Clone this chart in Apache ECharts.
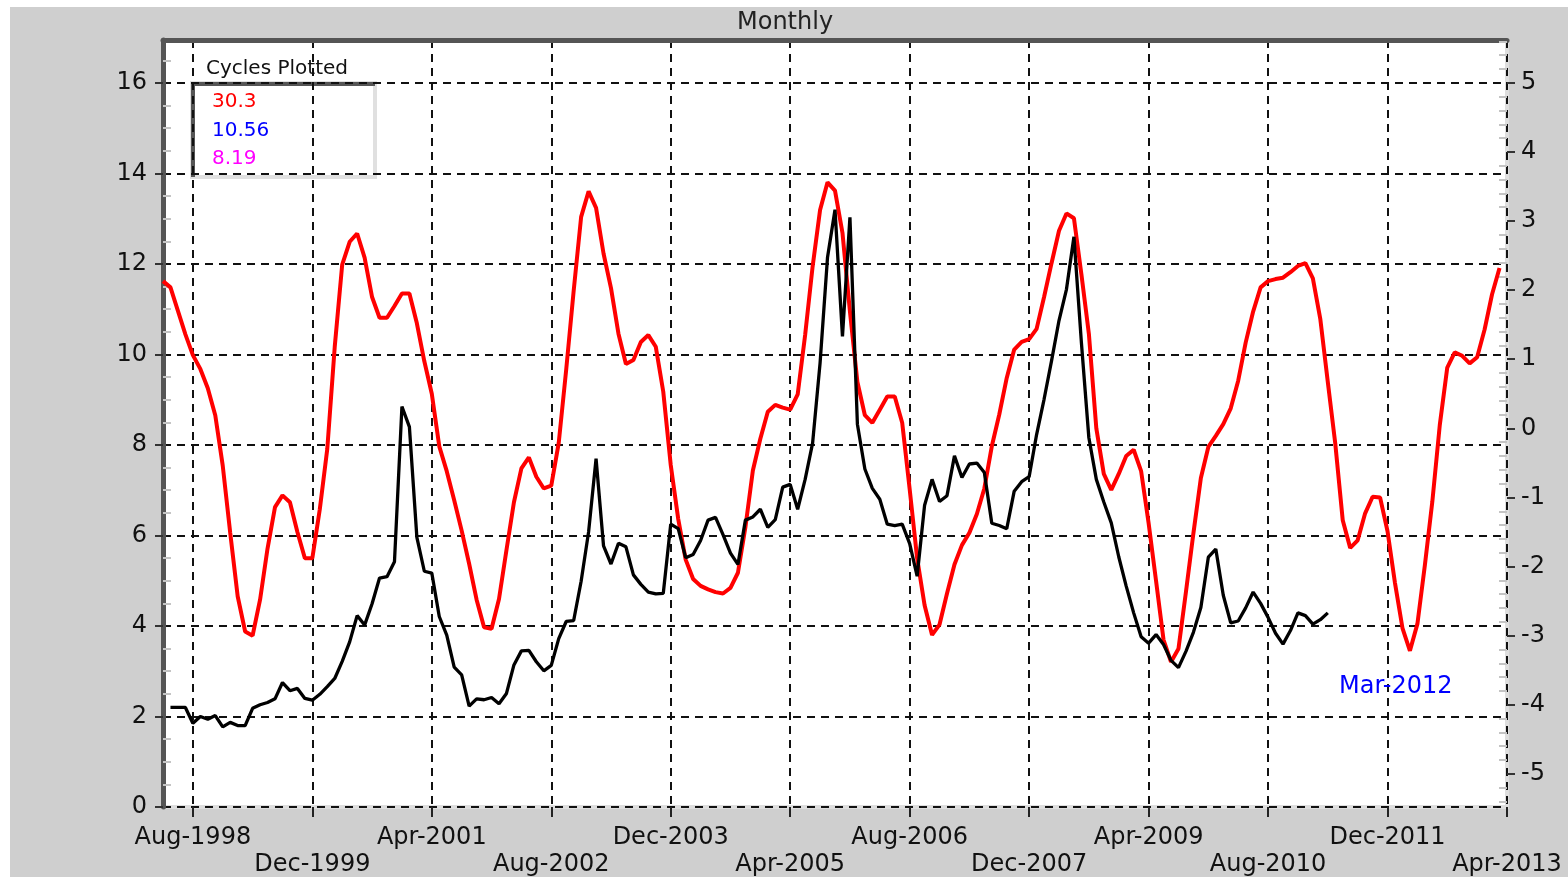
<!DOCTYPE html>
<html>
<head>
<meta charset="utf-8">
<title>Monthly</title>
<script src="https://cdn.jsdelivr.net/npm/echarts@6/dist/echarts.min.js"></script>
<style>
  html, body { margin: 0; padding: 0; background: #fff; }
  #chart {
    position: absolute; left: 10px; top: 7px;
    width: 1558px; height: 870px;
    background: #cfcfcf;
  }
</style>
</head>
<body>
<div id="chart"></div>
<script>
// month axis runs Apr-1998 .. Apr-2013
const startYear = 1998;
const startMonth = 3; // April, 0-based
const monthCount = 181;
const monthNames = ['Jan', 'Feb', 'Mar', 'Apr', 'May', 'Jun', 'Jul', 'Aug', 'Sep', 'Oct', 'Nov', 'Dec'];

// labelled ticks on the date axis
const tickLabels = ['Aug-1998', 'Dec-1999', 'Apr-2001', 'Aug-2002', 'Dec-2003', 'Apr-2005',
  'Aug-2006', 'Dec-2007', 'Apr-2009', 'Aug-2010', 'Dec-2011', 'Apr-2013'];

// cycle composite (red, right axis)
const cycleValues = [
  2.13, 2.04, 1.70, 1.36, 1.06, 0.86, 0.58, 0.19, -0.54, -1.51,
  -2.43, -2.94, -3.00, -2.48, -1.74, -1.14, -0.97, -1.07, -1.50, -1.88,
  -1.88, -1.17, -0.30, 1.18, 2.37, 2.70, 2.82, 2.47, 1.90, 1.60,
  1.60, 1.77, 1.95, 1.95, 1.52, 0.97, 0.50, -0.26, -0.62, -1.04,
  -1.48, -1.96, -2.48, -2.88, -2.90, -2.47, -1.76, -1.07, -0.58, -0.42,
  -0.70, -0.87, -0.83, -0.21, 0.85, 1.99, 3.06, 3.43, 3.19, 2.53,
  2.03, 1.37, 0.93, 0.99, 1.25, 1.35, 1.18, 0.53, -0.53, -1.31,
  -1.90, -2.18, -2.28, -2.33, -2.37, -2.39, -2.31, -2.09, -1.43, -0.61,
  -0.15, 0.24, 0.34, 0.30, 0.27, 0.49, 1.35, 2.34, 3.16, 3.56,
  3.44, 2.83, 1.69, 0.67, 0.19, 0.08, 0.27, 0.46, 0.46, 0.08,
  -0.88, -1.88, -2.56, -2.99, -2.84, -2.39, -1.97, -1.69, -1.51, -1.24,
  -0.87, -0.26, 0.20, 0.73, 1.14, 1.25, 1.29, 1.44, 1.90, 2.39,
  2.86, 3.11, 3.04, 2.23, 1.37, 0.00, -0.66, -0.89, -0.66, -0.40,
  -0.31, -0.62, -1.37, -2.21, -3.06, -3.38, -3.19, -2.37, -1.52, -0.72,
  -0.27, -0.11, 0.06, 0.29, 0.69, 1.24, 1.69, 2.04, 2.13, 2.16,
  2.18, 2.26, 2.35, 2.39, 2.17, 1.58, 0.67, -0.22, -1.33, -1.73,
  -1.62, -1.23, -0.99, -1.00, -1.49, -2.24, -2.89, -3.22, -2.83, -1.98,
  -1.06, 0.05, 0.88, 1.10, 1.05, 0.94, 1.03, 1.43, 1.94, 2.32, null
];

// monthly price (black, left axis)
const priceValues = [
  null, 2.20, 2.20, 2.20, 1.85, 2.00, 1.94, 2.02, 1.77, 1.87,
  1.80, 1.80, 2.18, 2.26, 2.31, 2.39, 2.75, 2.57, 2.62, 2.40,
  2.36, 2.49, 2.66, 2.84, 3.22, 3.65, 4.23, 4.02, 4.49, 5.06,
  5.09, 5.42, 8.85, 8.40, 5.96, 5.21, 5.17, 4.21, 3.80, 3.09,
  2.92, 2.23, 2.39, 2.37, 2.42, 2.28, 2.51, 3.14, 3.45, 3.46,
  3.21, 3.01, 3.13, 3.72, 4.10, 4.12, 4.99, 6.08, 7.70, 5.77,
  5.37, 5.83, 5.75, 5.13, 4.92, 4.75, 4.71, 4.72, 6.25, 6.15,
  5.51, 5.58, 5.89, 6.34, 6.40, 6.02, 5.61, 5.36, 6.34, 6.41,
  6.58, 6.18, 6.35, 7.07, 7.13, 6.58, 7.24, 8.04, 9.81, 12.15,
  13.20, 10.40, 13.03, 8.46, 7.47, 7.04, 6.80, 6.25, 6.22, 6.25,
  5.82, 5.10, 6.67, 7.24, 6.75, 6.88, 7.76, 7.28, 7.58, 7.60,
  7.39, 6.27, 6.22, 6.15, 6.98, 7.19, 7.30, 8.23, 9.01, 9.86,
  10.75, 11.44, 12.60, 10.26, 8.16, 7.24, 6.74, 6.28, 5.53, 4.88,
  4.29, 3.76, 3.62, 3.81, 3.59, 3.24, 3.08, 3.44, 3.86, 4.41,
  5.52, 5.70, 4.68, 4.07, 4.11, 4.40, 4.75, 4.50, 4.19, 3.84,
  3.60, 3.90, 4.29, 4.23, 4.04, 4.14, 4.29
];

// legend box entries
const legendTitle = 'Cycles Plotted';
const legendLabels = ['30.3', '10.56', '8.19'];
const legendColors = ['#ff0000', '#0000ff', '#ff00ff'];

const FONT = 'DejaVu Sans';

function buildMonths() {
  const out = [];
  for (let i = 0; i < monthCount; i++) {
    const t = startMonth + i;
    out.push(monthNames[t % 12] + '-' + (startYear + Math.floor(t / 12)));
  }
  return out;
}

function initChart() {
  const months = buildMonths();
  const tickIdx = tickLabels.map(v => months.indexOf(v));
  const isTick = i => tickIdx.indexOf(i) >= 0;

  const dashed = { color: '#111', width: 2, type: [8, 6] };

  const chart = echarts.init(document.getElementById('chart'));
  const options = {
    animation: false,
    backgroundColor: 'transparent',
    grid: {
      left: 153,
      top: 33,
      right: 61,
      bottom: 70,
      show: true,
      backgroundColor: '#fff',
      borderColor: '#dedede',
      borderWidth: 4,
      outerBoundsMode: 'none'
    },
    xAxis: [{
      type: 'category',
      data: months,
      boundaryGap: false,
      axisLine: { show: false, onZero: false },
      axisTick: {
        show: true,
        interval: i => isTick(i),
        length: 10,
        lineStyle: { color: '#222', width: 2 }
      },
      axisLabel: {
        interval: i => isTick(i),
        formatter: (v, i) => (tickIdx.indexOf(i) % 2 === 1 ? '\n' + v : v),
        fontFamily: FONT,
        fontSize: 24,
        lineHeight: 27,
        color: '#111',
        margin: 17
      },
      splitLine: {
        show: true,
        interval: i => isTick(i),
        lineStyle: dashed
      }
    }, {
      type: 'category',
      data: months,
      boundaryGap: false,
      position: 'top',
      axisLine: { show: true, onZero: false, lineStyle: { color: '#555', width: 5 } },
      axisTick: { show: false },
      axisLabel: { show: false },
      splitLine: { show: false }
    }],
    yAxis: [{
      type: 'value',
      position: 'left',
      min: 0,
      max: 16.95,
      interval: 2,
      axisLine: { show: true, onZero: false, lineStyle: { color: '#555', width: 5 } },
      axisTick: { show: true, length: 8, lineStyle: { color: '#333', width: 2 } },
      axisLabel: {
        showMaxLabel: false,
        fontFamily: FONT,
        fontSize: 24,
        color: '#111',
        margin: 16
      },
      splitLine: { show: true, lineStyle: dashed }
    }, {
      type: 'value',
      position: 'right',
      min: -5.48,
      max: 5.62,
      splitNumber: 11,
      minInterval: 1,
      maxInterval: 1,
      axisLine: { show: false, onZero: false },
      axisTick: { show: true, length: 8, lineStyle: { color: '#333', width: 2 } },
      axisLabel: {
        showMinLabel: false,
        showMaxLabel: false,
        fontFamily: FONT,
        fontSize: 24,
        color: '#111',
        margin: 14
      },
      splitLine: { show: false }
    }, {
      // light minor ticks inside the left edge
      type: 'value',
      position: 'left',
      min: 0,
      max: 16.95,
      interval: 2,
      axisLine: { show: false, onZero: false },
      axisTick: { show: false, inside: true },
      axisLabel: { show: false },
      splitLine: { show: false },
      minorTick: { show: true, splitNumber: 4, length: 8, lineStyle: { color: '#c4c4c4', width: 2 } }
    }, {
      // light minor ticks inside the right edge
      type: 'value',
      position: 'right',
      min: -5.48,
      max: 5.62,
      splitNumber: 11,
      minInterval: 1,
      maxInterval: 1,
      axisLine: { show: false, onZero: false },
      axisTick: { show: false, inside: true },
      axisLabel: { show: false },
      splitLine: { show: false },
      minorTick: { show: true, splitNumber: 5, length: 8, lineStyle: { color: '#c4c4c4', width: 2 } }
    }],
    series: [{
      name: 'cycle',
      type: 'line',
      xAxisIndex: 0,
      yAxisIndex: 1,
      data: cycleValues,
      symbol: 'none',
      lineStyle: { color: '#ff0000', width: 4 },
      itemStyle: { color: '#ff0000' },
      z: 3
    }, {
      name: 'price',
      type: 'line',
      xAxisIndex: 0,
      yAxisIndex: 0,
      data: priceValues,
      symbol: 'none',
      lineStyle: { color: '#000', width: 3.3 },
      itemStyle: { color: '#000' },
      z: 4
    }],
    graphic: [{
      type: 'text',
      left: 775 - 48,
      top: 4,
      style: { text: 'Monthly', fontFamily: FONT, fontSize: 24, fill: '#222' }
    }, {
      type: 'group',
      left: 180,
      top: 52,
      z: 10,
      children: [{
        type: 'rect',
        shape: { x: 0, y: 24, width: 183, height: 94 },
        style: { fill: '#fff', stroke: '#e0e0e0', lineWidth: 4 }
      }, {
        type: 'polyline',
        shape: { points: [[1, 118], [1, 25], [183, 25]] },
        style: { stroke: '#555', lineWidth: 4, fill: null }
      }, {
        type: 'text',
        x: 14,
        y: 0,
        style: { text: legendTitle, fontFamily: FONT, fontSize: 20, fill: '#111' }
      }].concat(legendLabels.map((t, i) => ({
        type: 'text',
        x: 20,
        y: 33 + i * 28.5,
        style: { text: t, fontFamily: FONT, fontSize: 20, fill: legendColors[i] }
      })))
    }, {
      type: 'text',
      left: 1329,
      top: 668,
      z: 10,
      style: { text: 'Mar-2012', fontFamily: FONT, fontSize: 24, fill: '#0000ff' }
    }]
  };

  chart.setOption(options);
}

initChart();
</script>
</body>
</html>
